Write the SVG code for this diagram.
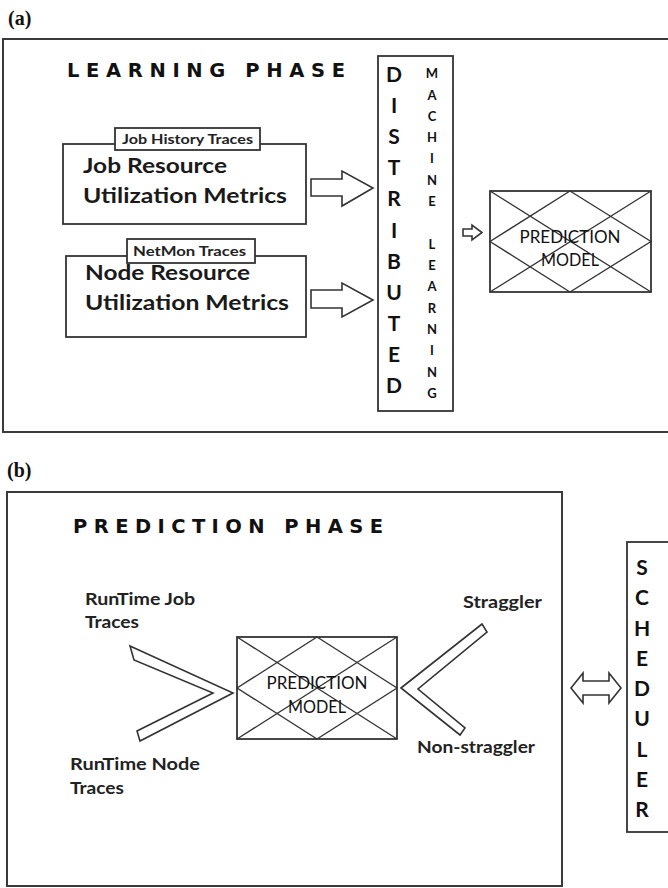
<svg xmlns="http://www.w3.org/2000/svg" width="668" height="888" viewBox="0 0 668 888">
<defs>
<style>
.frame{fill:none;stroke:#3a3a3a;stroke-width:2}
.box{fill:#fff;stroke:#333;stroke-width:1.8}
.thin{fill:none;stroke:#333;stroke-width:1.3}
.arrow{fill:#fff;stroke:#333;stroke-width:1.6;stroke-linejoin:miter}
.panel{font-family:"Liberation Serif",serif;font-weight:bold;font-size:20px;fill:#111}
.phase{font-family:"DejaVu Sans",sans-serif;font-weight:bold;font-size:19.5px;fill:#111}
.big{font-family:Lato,"Open Sans",sans-serif;font-weight:bold;font-size:20px;fill:#1a1a1a}
.lab{font-family:Lato,"Open Sans",sans-serif;font-weight:bold;font-size:13px;fill:#222}
.mid{font-family:Lato,"Open Sans",sans-serif;font-weight:bold;font-size:17px;fill:#222}
.col{font-family:Lato,"Open Sans",sans-serif;font-weight:bold;font-size:21px;fill:#111;text-anchor:middle}
.col2{font-family:Lato,"Open Sans",sans-serif;font-weight:bold;font-size:13px;fill:#111;text-anchor:middle}
.pm{font-family:Lato,"Open Sans",sans-serif;font-size:18px;fill:#111;text-anchor:middle}
</style>
</defs>

<!-- Panel (a) -->
<text class="panel" x="8" y="25">(a)</text>
<rect class="frame" x="3" y="39" width="670" height="393"/>
<text class="phase" x="67" y="77" textLength="278" lengthAdjust="spacing">LEARNING PHASE</text>

<g id="job-metrics">
<rect class="box" x="63" y="144" width="243" height="80"/>
<rect class="box" x="115" y="128" width="145" height="22" stroke-width="1.5"/>
<text class="lab" x="122" y="144" textLength="131" lengthAdjust="spacingAndGlyphs">Job History Traces</text>
<text class="big" x="83" y="173" textLength="144" lengthAdjust="spacingAndGlyphs">Job Resource</text>
<text class="big" x="83" y="203" textLength="204" lengthAdjust="spacingAndGlyphs">Utilization Metrics</text>
</g>

<g id="node-metrics">
<rect class="box" x="66" y="256" width="240" height="81"/>
<text class="big" x="85" y="280" textLength="165" lengthAdjust="spacingAndGlyphs">Node Resource</text>
<rect class="box" x="127" y="239" width="128" height="24" stroke-width="1.5"/>
<text class="lab" x="133" y="256" textLength="113" lengthAdjust="spacingAndGlyphs">NetMon Traces</text>
<text class="big" x="85" y="310" textLength="204" lengthAdjust="spacingAndGlyphs">Utilization Metrics</text>
</g>

<g id="distributed-ml">
<rect class="box" x="378" y="56" width="75" height="355"/>
<text class="col" x="394" y="82">D</text>
<text class="col" x="394" y="113">I</text>
<text class="col" x="394" y="144">S</text>
<text class="col" x="394" y="175">T</text>
<text class="col" x="394" y="206">R</text>
<text class="col" x="394" y="238">I</text>
<text class="col" x="394" y="269">B</text>
<text class="col" x="394" y="300">U</text>
<text class="col" x="394" y="331">T</text>
<text class="col" x="394" y="362">E</text>
<text class="col" x="394" y="393">D</text>
<text class="col2" x="432" y="78">M</text>
<text class="col2" x="432" y="100">A</text>
<text class="col2" x="432" y="121">C</text>
<text class="col2" x="432" y="142">H</text>
<text class="col2" x="432" y="163">I</text>
<text class="col2" x="432" y="185">N</text>
<text class="col2" x="432" y="206">E</text>
<text class="col2" x="432" y="249">L</text>
<text class="col2" x="432" y="270">E</text>
<text class="col2" x="432" y="291">A</text>
<text class="col2" x="432" y="313">R</text>
<text class="col2" x="432" y="334">N</text>
<text class="col2" x="432" y="355">I</text>
<text class="col2" x="432" y="377">N</text>
<text class="col2" x="432" y="398">G</text>
</g>

<g id="prediction-model-a">
<rect class="box" x="490" y="191" width="161" height="101"/>
<path class="thin" d="M490,191 L651,292 M651,191 L490,292 M570,191 L651,241.5 L570,292 L490,241.5 Z"/>
<text class="pm" x="570" y="243" textLength="101" lengthAdjust="spacingAndGlyphs">PREDICTION</text>
<text class="pm" x="570" y="266" textLength="58" lengthAdjust="spacingAndGlyphs">MODEL</text>
</g>

<!-- Panel (b) -->
<text class="panel" x="7" y="477">(b)</text>
<rect class="frame" x="7" y="492" width="555" height="394"/>
<text class="phase" x="73" y="533" textLength="310" lengthAdjust="spacing">PREDICTION PHASE</text>

<g id="runtime-job">
<text class="mid" x="85" y="605" textLength="110" lengthAdjust="spacingAndGlyphs">RunTime Job</text>
<text class="mid" x="85" y="628" textLength="54" lengthAdjust="spacingAndGlyphs">Traces</text>
</g>
<g id="runtime-node">
<text class="mid" x="70" y="770" textLength="130" lengthAdjust="spacingAndGlyphs">RunTime Node</text>
<text class="mid" x="70" y="794" textLength="54" lengthAdjust="spacingAndGlyphs">Traces</text>
</g>

<g id="prediction-model-b">
<rect class="box" x="237" y="637" width="160" height="102"/>
<path class="thin" d="M237,637 L397,739 M397,637 L237,739 M317,637 L397,688 L317,739 L237,688 Z"/>
<text class="pm" x="317" y="689" textLength="101" lengthAdjust="spacingAndGlyphs">PREDICTION</text>
<text class="pm" x="317" y="713" textLength="58" lengthAdjust="spacingAndGlyphs">MODEL</text>
</g>

<g id="straggler">
<text class="mid" x="463" y="608" textLength="79" lengthAdjust="spacingAndGlyphs">Straggler</text>
</g>
<g id="non-straggler">
<text class="mid" x="417" y="753" textLength="118" lengthAdjust="spacingAndGlyphs">Non-straggler</text>
</g>

<g id="scheduler">
<rect class="box" x="627" y="542" width="50" height="290"/>
<text class="col" x="642" y="575" font-size="19">S</text>
<text class="col" x="642" y="605" font-size="19">C</text>
<text class="col" x="642" y="636" font-size="19">H</text>
<text class="col" x="642" y="666" font-size="19">E</text>
<text class="col" x="642" y="696" font-size="19">D</text>
<text class="col" x="642" y="726" font-size="19">U</text>
<text class="col" x="642" y="757" font-size="19">L</text>
<text class="col" x="642" y="787" font-size="19">E</text>
<text class="col" x="642" y="817" font-size="19">R</text>
</g>

<g id="connectors">
<polygon class="arrow" points="311,179 342,179 342,171 373,188 342,206 342,196 311,196"/>
<polygon class="arrow" points="311,290 342,290 342,283 373,300 342,317 342,308 311,308"/>
<polygon class="arrow" stroke-width="1.3" points="463,229 472,229 472,225 482,232.5 472,240 472,236 463,236"/>
<polygon class="arrow" stroke-width="1.3" points="130,646 233,693 140,741 137,731 213,693 134,660"/>
<polygon class="arrow" stroke-width="1.3" points="401,688 482,624 487,632 418,689 465,728 460,735"/>
<polygon class="arrow" stroke="#111" stroke-width="3" stroke-linejoin="round" points="571,688 583,673 583,681 609,681 609,673 621,688 609,703 609,695 583,695 583,703"/>
</g>
</svg>
